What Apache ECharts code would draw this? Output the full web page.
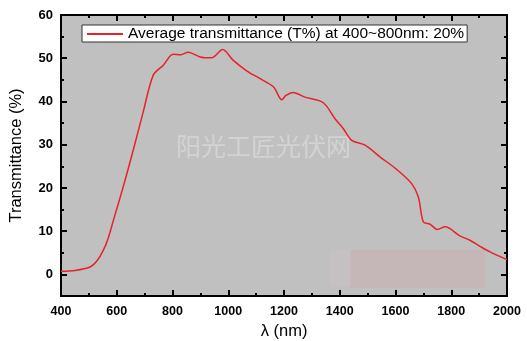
<!DOCTYPE html>
<html>
<head>
<meta charset="utf-8">
<script src="https://cdn.jsdelivr.net/npm/echarts@6/dist/echarts.min.js"></script>
<style>
  html, body { margin: 0; padding: 0; background: #fff; }
  #chart { width: 527px; height: 341px; }
</style>
</head>
<body>
<div id="chart"></div>
<script>
// wavelength (nm) and transmittance (%)
var wavelength = [400, 450, 504, 530, 552, 570, 588, 623, 659, 695, 731, 767, 802, 830, 856, 899, 940, 980, 1018, 1066, 1108, 1162, 1192, 1207, 1233, 1275, 1341, 1383, 1413, 1443, 1491, 1544, 1604, 1658, 1682, 1700, 1724, 1750, 1778, 1831, 1867, 1903, 1939, 2000]
var transmittance = [0.7, 0.9, 1.7, 3.2, 5.6, 8.5, 12.5, 20.2, 28.7, 37.6, 46.1, 48.4, 50.9, 50.8, 51.4, 50.3, 50.1, 52.0, 49.5, 47.1, 45.5, 43.4, 40.4, 41.4, 42.1, 41.0, 39.7, 36.0, 33.7, 31.0, 29.9, 27.2, 24.3, 21.0, 17.9, 12.1, 11.6, 10.4, 11.0, 8.9, 7.9, 6.5, 5.2, 3.4]

var yMajor = [0, 10, 20, 30, 40, 50, 60]
var yMinor = [-5, 5, 15, 25, 35, 45, 55]
var seriesName = 'Average transmittance (T%) at 400~800nm: 20%'

var chart = echarts.init(document.getElementById('chart'))

var points = wavelength.map(function (w, i) { return [w, transmittance[i]] })

function yAxisDef(pos, ticks, len, showLabel) {
  return {
    type: 'value', min: -5, max: 60, position: pos,
    axisLine: { show: true, onZero: false, lineStyle: { color: '#000', width: 2 } },
    axisTick: { show: true, inside: true, length: len, customValues: ticks, lineStyle: { color: '#000', width: 2 } },
    axisLabel: { show: showLabel, customValues: yMajor, margin: 8, color: '#000', fontWeight: 'bold', fontSize: 13, fontFamily: 'Arial' },
    splitLine: { show: false },
    name: showLabel ? 'Transmittance (%)' : '',
    nameLocation: 'middle', nameGap: 36,
    nameTextStyle: { color: '#000', fontSize: 16.5, fontFamily: 'Arial' }
  }
}

function xAxisDef(pos, showLabel) {
  return {
    type: 'value', min: 400, max: 2000, interval: 200, position: pos,
    axisLine: { show: true, onZero: false, lineStyle: { color: '#000', width: 2 } },
    axisTick: { show: true, inside: true, length: 6, lineStyle: { color: '#000', width: 2 } },
    minorTick: { show: true, splitNumber: 2, length: 3, lineStyle: { color: '#000', width: 2 } },
    axisLabel: {
      show: showLabel, margin: 9, color: '#000', fontWeight: 'bold', fontSize: 12.5, fontFamily: 'Arial',
      formatter: function (v) { return String(v) }
    },
    splitLine: { show: false },
    name: showLabel ? 'λ (nm)' : '',
    nameLocation: 'middle', nameGap: 22,
    nameTextStyle: { color: '#000', fontSize: 16.5, fontFamily: 'Arial' }
  }
}

chart.setOption({
  animation: false,
  grid: {
    left: 61, right: 20, top: 15, bottom: 45, show: true,
    backgroundColor: '#c0c0c0', borderWidth: 0,
    outerBoundsMode: 'none'
  },
  legend: {
    data: [seriesName],
    left: 82, top: 25,
    backgroundColor: '#fff',
    borderColor: '#333', borderWidth: 1, borderRadius: 0,
    padding: [1, 3, 0, 5],
    itemWidth: 36, itemHeight: 2, itemGap: 5,
    icon: 'rect',
    textStyle: { color: '#000', fontSize: 15.5, fontFamily: 'Arial', padding: [0, 0, 0, 0] }
  },
  xAxis: [xAxisDef('bottom', true), xAxisDef('top', false)],
  yAxis: [
    yAxisDef('left', yMajor, 6, true),
    yAxisDef('left', yMinor, 3, false),
    yAxisDef('right', yMajor, 6, false),
    yAxisDef('right', yMinor, 3, false)
  ],
  graphic: [
    {
      type: 'rect', left: 330, top: 250, z: 1,
      shape: { width: 22, height: 36 },
      style: { fill: 'rgba(205,195,197,0.4)' }
    },
    {
      type: 'rect', left: 350, top: 250, z: 1,
      shape: { width: 135, height: 38 },
      style: { fill: 'rgba(205,170,175,0.45)' }
    },
    {
      type: 'text', left: 176, top: 134, z: 1,
      style: { text: '阳光工匠光伏网', fill: 'rgba(255,255,255,0.3)', fontSize: 25, fontFamily: 'Noto Sans CJK SC' }
    }
  ],
  series: [{
    name: seriesName,
    type: 'line',
    data: points,
    smooth: 0.3,
    showSymbol: false,
    itemStyle: { color: '#e8202a' },
    lineStyle: { color: '#e8202a', width: 1.5 },
    z: 3
  }]
})
</script>
</body>
</html>
